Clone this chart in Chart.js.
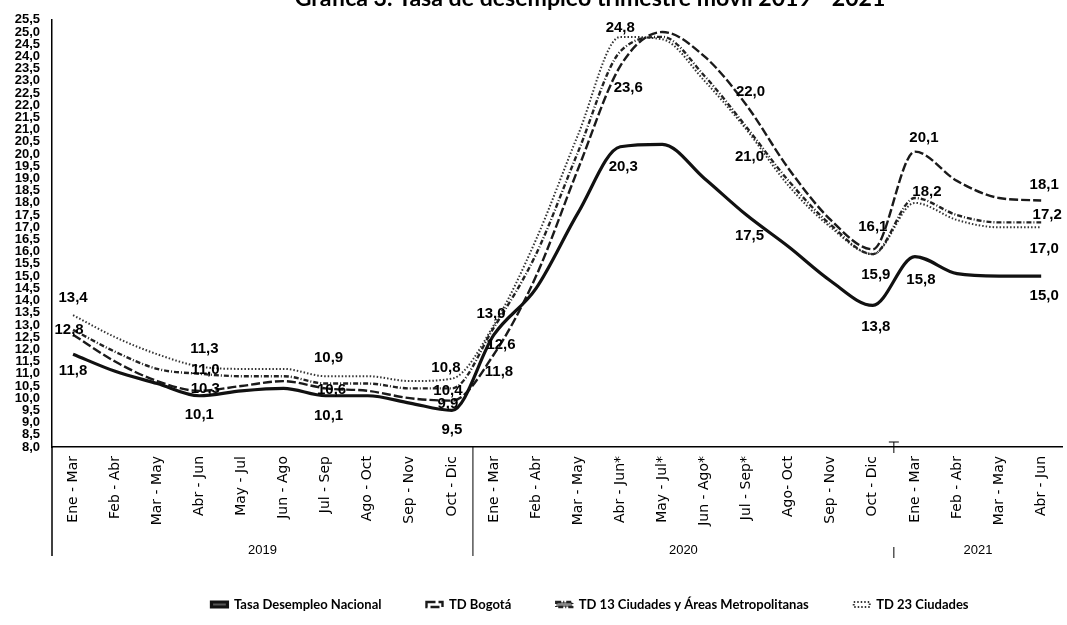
<!DOCTYPE html>
<html><head><meta charset="utf-8">
<script src="https://cdn.jsdelivr.net/npm/chart.js@4/dist/chart.umd.min.js"></script>
<style>html,body{margin:0;padding:0;background:#fff}#wrap{width:1067px;height:625px}</style>
</head><body><div id="wrap"><canvas id="c" width="1067" height="625"></canvas></div>
<script>
// ---------- DATA ----------
const titleText = 'Gráfica 3. Tasa de desempleo trimestre móvil 2019 - 2021';
const periods = [
  'Ene - Mar','Feb - Abr','Mar - May','Abr - Jun','May - Jul','Jun - Ago','Jul - Sep','Ago - Oct','Sep - Nov','Oct - Dic',
  'Ene - Mar','Feb - Abr','Mar - May','Abr - Jun*','May - Jul*','Jun - Ago*','Jul - Sep*','Ago- Oct','Sep - Nov','Oct - Dic',
  'Ene - Mar','Feb - Abr','Mar - May','Abr - Jun'
];
const yearNames = ['2019','2020','2021'];
const yearStarts = [0, 10, 20];
const yearEnds = [9, 19, 23];
const yMin = 8, yMax = 25.5, yStep = 0.5;

const seriesNames = ['Tasa Desempleo Nacional','TD Bogotá','TD 13 Ciudades y Áreas Metropolitanas','TD 23 Ciudades'];
const nacional = [11.8,11.1,10.6,10.1,10.3,10.4,10.1,10.1,9.8,9.5, 12.6,14.5,17.6,20.3,20.4,19.0,17.5,16.2,14.8,13.8, 15.8,15.1,15.0,15.0];
const bogota   = [12.6,11.5,10.7,10.3,10.5,10.7,10.4,10.3,10.0,9.9, 11.8,15.0,19.4,23.6,25.0,24.0,22.0,19.4,17.3,16.1, 20.1,18.9,18.2,18.1];
const ciudades13 = [12.8,11.9,11.2,11.0,10.9,10.9,10.6,10.6,10.4,10.4, 12.9,15.9,20.1,24.2,24.8,23.2,21.1,18.9,17.1,15.9, 18.2,17.5,17.2,17.2];
const ciudades23 = [13.4,12.5,11.8,11.3,11.2,11.2,10.9,10.9,10.7,10.8, 13.0,16.5,20.8,24.8,24.7,23.0,21.0,18.7,17.0,15.9, 18.0,17.3,17.0,17.0];

// which points carry a value label: [series index, point index]
const labelSeries = [0,3,2, 3,2,1,0, 3,2,0, 3,2,1,0, 3,0,1, 3,1,0, 1,3,0, 1,2,0, 1,2,0, 1,2,3,0];
const labelPoints = [0,0,0, 3,3,3,3, 6,6,6, 9,9,9,9, 10,10,10, 13,13,13, 16,16,16, 19,19,19, 20,20,20, 23,23,23,23];
// ---------- END DATA ----------

// label placement offsets (px), same order as labelSeries
const labelDX = [0,0,-4, 5,6,6,0, 3,6,3, -6,-4,-4,0, -3,7,5, 0,8,3, 4,3,3, 0,3,3, 9,12,6, 3,6,3,3];
const labelDY = [17,-17,0, -18,-4,-2,19, -18,6,20, -11,2,3,19, -11,10,18, -9,22,20, -13,27,21, -22,21,21, -14,-6,23, -16,-8,22,20];

const fmt = v => (Math.round(v*10)/10).toFixed(1).replace('.', ',');
const seriesData = [nacional, bogota, ciudades13, ciudades23];

const styles = [
  {borderColor:'#111', borderWidth:3.2, borderDash:[], backgroundColor:'#555'},
  {borderColor:'#1a1a1a', borderWidth:2.4, borderDash:[9,3], backgroundColor:'#fff'},
  {borderColor:'#222', borderWidth:2.4, borderDash:[5,2,1,2], backgroundColor:'#888'},
  {borderColor:'#333', borderWidth:2, borderDash:[1.5,2], backgroundColor:'#fff'}
];

const extras = {
  id: 'extras',
  afterLayout(chart) {
    const l = chart.legend;
    if (l) { l.left += 57; l.right += 57; }
  },
  beforeDraw(chart) {
    const ctx = chart.ctx;
    ctx.save();
    ctx.fillStyle = '#fff';
    ctx.fillRect(0, 0, chart.width, chart.height);
    ctx.fillStyle = '#000';
    ctx.font = 'bold 20px Lato, "DejaVu Sans", sans-serif';
    const w = ctx.measureText(titleText).width;
    const size = 20 * 590 / w;
    ctx.font = 'bold ' + size.toFixed(1) + 'px Lato, "DejaVu Sans", sans-serif';
    ctx.textAlign = 'center';
    ctx.textBaseline = 'alphabetic';
    ctx.fillText(titleText, 590, 6);
    ctx.restore();
  },
  afterDraw(chart) {
    const ctx = chart.ctx, xs = chart.scales.x, area = chart.chartArea;
    ctx.save();
    ctx.strokeStyle = '#000';
    ctx.lineWidth = 1.5;
    ctx.beginPath();
    ctx.moveTo(area.left, area.bottom);
    ctx.lineTo(area.left, area.bottom + 109);
    ctx.stroke();
    ctx.lineWidth = 1;
    const sep1 = (xs.getPixelForValue(yearEnds[0]) + xs.getPixelForValue(yearStarts[1])) / 2;
    ctx.beginPath();
    ctx.moveTo(sep1, area.bottom);
    ctx.lineTo(sep1, area.bottom + 109);
    ctx.stroke();
    const sep2 = (xs.getPixelForValue(yearEnds[1]) + xs.getPixelForValue(yearStarts[2])) / 2;
    ctx.beginPath();
    ctx.moveTo(sep2 - 5, area.bottom - 5);
    ctx.lineTo(sep2 + 5, area.bottom - 5);
    ctx.moveTo(sep2, area.bottom - 5);
    ctx.lineTo(sep2, area.bottom + 6);
    ctx.moveTo(sep2, area.bottom + 100);
    ctx.lineTo(sep2, area.bottom + 111);
    ctx.stroke();
    ctx.fillStyle = '#000';
    ctx.font = '13px "Liberation Sans Narrow", "Liberation Sans", sans-serif';
    ctx.textAlign = 'center';
    ctx.textBaseline = 'middle';
    yearNames.forEach((y, k) => {
      const cx = (xs.getPixelForValue(yearStarts[k]) + xs.getPixelForValue(yearEnds[k])) / 2;
      ctx.fillText(y, cx, area.bottom + 103);
    });
    ctx.font = 'bold 15px "Liberation Sans", Arial, sans-serif';
    labelSeries.forEach((s, k) => {
      const i = labelPoints[k];
      const pt = chart.getDatasetMeta(s).data[i];
      ctx.fillText(fmt(seriesData[s][i]), pt.x + labelDX[k], pt.y + labelDY[k]);
    });
    ctx.restore();
  }
};

new Chart(document.getElementById('c'), {
  type: 'line',
  data: {
    labels: periods,
    datasets: seriesNames.map((n, k) => Object.assign({
      label: n,
      data: seriesData[k],
      fill: false,
      cubicInterpolationMode: 'monotone',
      pointRadius: 0,
      pointHoverRadius: 0
    }, styles[k]))
  },
  options: {
    responsive: false,
    animation: false,
    devicePixelRatio: 1,
    layout: {padding: {top: 15, right: 1, left: 0, bottom: 4}},
    plugins: {
      title: {display: false},
      tooltip: {enabled: false},
      legend: {
        position: 'bottom',
        labels: {
          boxWidth: 16, boxHeight: 5, padding: 45, color: '#000',
          font: {family: 'Lato, "DejaVu Sans", sans-serif', size: 13, weight: 'bold'}
        }
      }
    },
    scales: {
      x: {
        type: 'category', offset: true,
        grid: {display: false, drawTicks: false},
        border: {display: true, color: '#000', width: 1.5},
        ticks: {autoSkip: false, maxRotation: 90, minRotation: 90, padding: 9, color: '#000',
                font: {family: '"DejaVu Sans", sans-serif', size: 14}},
        afterFit(s) { s.height = 106; }
      },
      y: {
        min: yMin, max: yMax,
        grid: {display: false, drawTicks: false},
        border: {display: true, color: '#000', width: 1.5},
        ticks: {stepSize: yStep, autoSkip: false, padding: 12, color: '#000',
                callback: v => fmt(v),
                font: {family: '"Liberation Sans Narrow", "Liberation Sans", sans-serif', size: 13, weight: 'bold'}},
        afterFit(s) { s.width = 52; }
      }
    }
  },
  plugins: [extras]
});
</script>
</body></html>
